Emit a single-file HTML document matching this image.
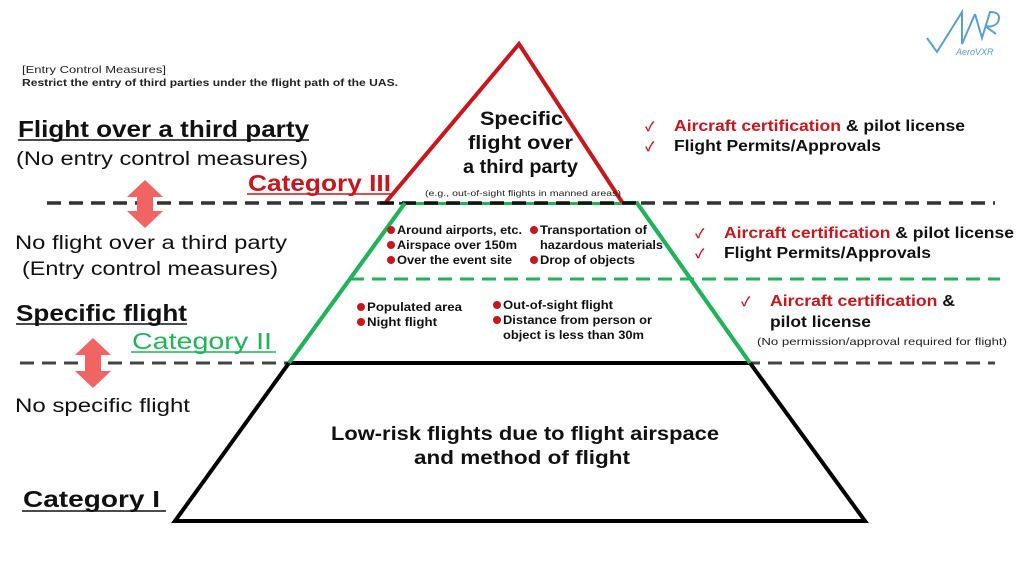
<!DOCTYPE html>
<html><head><meta charset="utf-8"><style>
html,body{margin:0;padding:0;background:#fff;}
svg{display:block;font-family:"Liberation Sans","Noto Sans CJK JP",sans-serif;}
</style></head><body>
<svg width="1024" height="576" viewBox="0 0 1024 576">
<!-- logo -->
<g stroke="#5aa0d0" stroke-width="2" fill="none">
<path d="M927 38 L937 52 L962 12 L962 44 L975 14"/>
<path d="M975 14 L982 38 L990 12 Q1002 12 998 22 Q994 28 985 26 L996 34"/>
</g>
<text x="956" y="55" font-size="9" fill="#5aa0d0" font-style="italic">AeroVXR</text>

<text x="22" y="73" font-size="10.5" fill="#222" textLength="144" lengthAdjust="spacingAndGlyphs">[Entry Control Measures]</text>
<text x="22" y="86" font-size="10.5" font-weight="bold" fill="#222" textLength="376" lengthAdjust="spacingAndGlyphs">Restrict the entry of third parties under the flight path of the UAS.</text>

<!-- dashed lines -->
<line x1="47" y1="203" x2="995" y2="203" stroke="#333" stroke-width="3.5" stroke-dasharray="14,8"/>
<line x1="20" y1="363" x2="995" y2="363" stroke="#444" stroke-width="3" stroke-dasharray="14,8"/>

<!-- pyramid -->
<polygon points="289,363 750,363 865,521 175,521" fill="#fff" stroke="#000" stroke-width="4"/>
<path d="M289 363 L405 203 L637 203 L750 363" fill="#fff" stroke="#22b35a" stroke-width="4"/>
<line x1="289" y1="363" x2="750" y2="363" stroke="#000" stroke-width="4"/>
<path d="M386 202 L519 44 L622 202" fill="#fff" stroke="#c8161d" stroke-width="4"/>
<line x1="380" y1="203" x2="640" y2="203" stroke="#111" stroke-width="3.5" stroke-dasharray="14,8"/>
<line x1="350" y1="279" x2="1000" y2="279" stroke="#22b35a" stroke-width="3" stroke-dasharray="14,8"/>
<line x1="233" y1="363" x2="750" y2="363" stroke="#000" stroke-width="0"/>
<path d="M289 363 L405 203 M637 203 L750 363" fill="none" stroke="#22b35a" stroke-width="4"/>

<!-- arrows -->
<polygon points="145,180 163,197 153,197 153,211 163,211 145,228 127,211 137,211 137,197 127,197" fill="#f06464"/>
<polygon points="93,338 111,355 101,355 101,371 111,371 93,388 75,371 85,371 85,355 75,355" fill="#f06464"/>

<!-- left labels -->
<g lengthAdjust="spacingAndGlyphs">
<text x="18" y="137" font-size="23" font-weight="bold" fill="#111" textLength="291" lengthAdjust="spacingAndGlyphs">Flight over a third party</text>
<text x="16" y="165" font-size="19" fill="#111" textLength="292" lengthAdjust="spacingAndGlyphs">(No entry control measures)</text>
<text x="248" y="191" font-size="23" font-weight="bold" fill="#c8161d" textLength="143" lengthAdjust="spacingAndGlyphs">Category III</text>
<text x="15" y="249" font-size="19" fill="#111" textLength="272" lengthAdjust="spacingAndGlyphs">No flight over a third party</text>
<text x="22" y="275" font-size="19" fill="#111" textLength="256" lengthAdjust="spacingAndGlyphs">(Entry control measures)</text>
<text x="16" y="321" font-size="23" font-weight="bold" fill="#111" textLength="171" lengthAdjust="spacingAndGlyphs">Specific flight</text>
<text x="132" y="349" font-size="23" fill="#22b35a" textLength="140" lengthAdjust="spacingAndGlyphs">Category II</text>
<text x="15" y="412" font-size="19" fill="#111" textLength="175" lengthAdjust="spacingAndGlyphs">No specific flight</text>
<text x="23" y="507" font-size="23" font-weight="bold" fill="#111" textLength="137" lengthAdjust="spacingAndGlyphs">Category I</text>
</g>
<line x1="18" y1="140" x2="309" y2="140" stroke="#111" stroke-width="1.5"/>
<line x1="247" y1="194" x2="392" y2="194" stroke="#c8161d" stroke-width="1.5"/>
<line x1="16" y1="324" x2="187" y2="324" stroke="#111" stroke-width="1.5"/>
<line x1="131" y1="352" x2="276" y2="352" stroke="#22b35a" stroke-width="1.5"/>
<line x1="22" y1="511" x2="166" y2="511" stroke="#111" stroke-width="1.5"/>

<!-- pyramid texts -->
<g font-size="19" font-weight="bold" fill="#111">
<text x="480" y="125" textLength="83" lengthAdjust="spacingAndGlyphs">Specific</text>
<text x="468" y="149" textLength="105" lengthAdjust="spacingAndGlyphs">flight over</text>
<text x="463" y="173" textLength="115" lengthAdjust="spacingAndGlyphs">a third party</text>
</g>
<text x="425" y="196" font-size="8.5" fill="#222" textLength="196" lengthAdjust="spacingAndGlyphs">(e.g., out-of-sight flights in manned areas)</text>

<g font-size="12" font-weight="bold" fill="#111">
<text x="397" y="234" textLength="125" lengthAdjust="spacingAndGlyphs">Around airports, etc.</text>
<text x="397" y="249" textLength="120" lengthAdjust="spacingAndGlyphs">Airspace over 150m</text>
<text x="397" y="264" textLength="115" lengthAdjust="spacingAndGlyphs">Over the event site</text>
<text x="540" y="234" textLength="107" lengthAdjust="spacingAndGlyphs">Transportation of</text>
<text x="540" y="249" textLength="123" lengthAdjust="spacingAndGlyphs">hazardous materials</text>
<text x="540" y="264" textLength="95" lengthAdjust="spacingAndGlyphs">Drop of objects</text>
<text x="367" y="311" textLength="95" lengthAdjust="spacingAndGlyphs">Populated area</text>
<text x="367" y="326" textLength="70" lengthAdjust="spacingAndGlyphs">Night flight</text>
<text x="503" y="309" textLength="110" lengthAdjust="spacingAndGlyphs">Out-of-sight flight</text>
<text x="503" y="324" textLength="149" lengthAdjust="spacingAndGlyphs">Distance from person or</text>
<text x="503" y="339" textLength="141" lengthAdjust="spacingAndGlyphs">object is less than 30m</text>
</g>
<g fill="#c8161d">
<circle cx="391" cy="230" r="4"/><circle cx="391" cy="245" r="4"/><circle cx="391" cy="260" r="4"/>
<circle cx="534" cy="230" r="4"/><circle cx="534" cy="260" r="4"/>
<circle cx="361" cy="307" r="4"/><circle cx="361" cy="322" r="4"/>
<circle cx="497" cy="305" r="4"/><circle cx="497" cy="320" r="4"/>
</g>

<g font-size="19" font-weight="bold" fill="#111">
<text x="331" y="440" textLength="388" lengthAdjust="spacingAndGlyphs">Low-risk flights due to flight airspace</text>
<text x="414" y="464" textLength="216" lengthAdjust="spacingAndGlyphs">and method of flight</text>
</g>

<!-- right side -->
<g font-size="16" font-weight="bold">
<text x="645" y="131" fill="#c8161d" font-size="13">✓</text>
<text x="674" y="131" fill="#c8161d" textLength="291" lengthAdjust="spacingAndGlyphs">Aircraft certification <tspan fill="#111">&amp; pilot license</tspan></text>
<text x="645" y="151" fill="#c8161d" font-size="13">✓</text>
<text x="674" y="151" fill="#111" textLength="207" lengthAdjust="spacingAndGlyphs">Flight Permits/Approvals</text>
<text x="695" y="238" fill="#c8161d" font-size="13">✓</text>
<text x="724" y="238" fill="#c8161d" textLength="290" lengthAdjust="spacingAndGlyphs">Aircraft certification <tspan fill="#111">&amp; pilot license</tspan></text>
<text x="695" y="258" fill="#c8161d" font-size="13">✓</text>
<text x="724" y="258" fill="#111" textLength="207" lengthAdjust="spacingAndGlyphs">Flight Permits/Approvals</text>
<text x="741" y="306" fill="#c8161d" font-size="13">✓</text>
<text x="770" y="306" fill="#c8161d" textLength="185" lengthAdjust="spacingAndGlyphs">Aircraft certification <tspan fill="#111">&amp;</tspan></text>
<text x="770" y="327" fill="#111" textLength="101" lengthAdjust="spacingAndGlyphs">pilot license</text>
</g>
<text x="757" y="345" font-size="10.5" fill="#222" textLength="250" lengthAdjust="spacingAndGlyphs">(No permission/approval required for flight)</text>
</svg>
</body></html>
